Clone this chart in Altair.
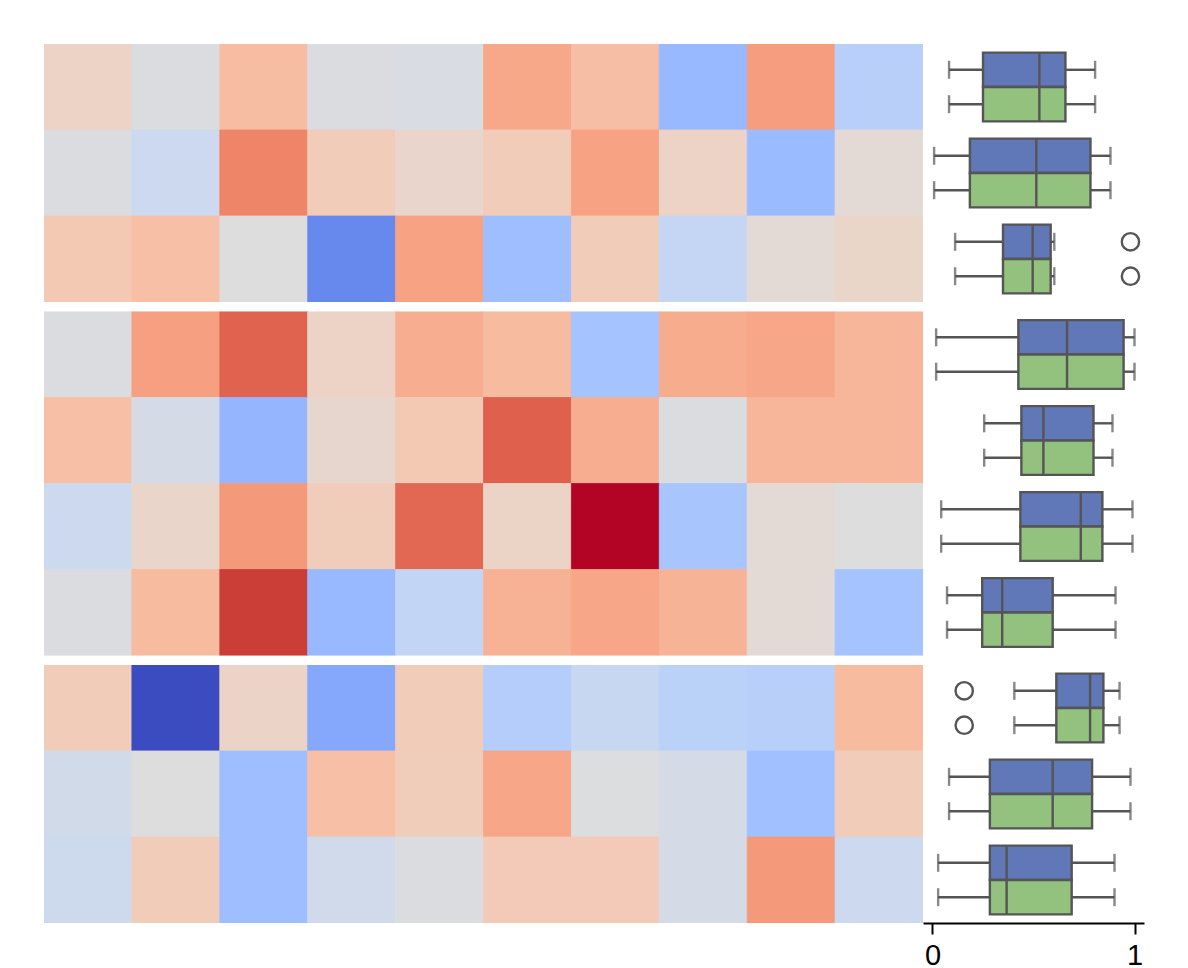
import altair as alt
import pandas as pd

# ---------------- data ----------------
# heatmap values (normalised 0..1, coolwarm), 10 rows x 10 columns
heat_values = [
    [0.563, 0.488, 0.650, 0.488, 0.484, 0.713, 0.644, 0.281, 0.741, 0.375],
    [0.488, 0.438, 0.800, 0.594, 0.547, 0.594, 0.728, 0.563, 0.288, 0.522],
    [0.606, 0.641, 0.500, 0.141, 0.728, 0.297, 0.594, 0.413, 0.522, 0.553],
    [0.488, 0.734, 0.869, 0.563, 0.700, 0.656, 0.319, 0.703, 0.719, 0.675],
    [0.641, 0.469, 0.272, 0.541, 0.606, 0.875, 0.697, 0.488, 0.675, 0.675],
    [0.438, 0.550, 0.750, 0.588, 0.859, 0.559, 1.000, 0.328, 0.522, 0.500],
    [0.488, 0.656, 0.938, 0.281, 0.406, 0.688, 0.719, 0.681, 0.522, 0.319],
    [0.594, 0.000, 0.556, 0.228, 0.594, 0.363, 0.422, 0.381, 0.375, 0.656],
    [0.456, 0.500, 0.300, 0.641, 0.588, 0.719, 0.494, 0.469, 0.306, 0.594],
    [0.441, 0.594, 0.300, 0.450, 0.488, 0.600, 0.600, 0.469, 0.750, 0.438],
]
group_sizes = [3, 4, 3]

# boxplot summary per row
whisker_low = [0.082, 0.008, 0.112, 0.018, 0.256, 0.043, 0.072, 0.405, 0.082, 0.028]
q1 = [0.250, 0.185, 0.349, 0.425, 0.440, 0.435, 0.246, 0.613, 0.284, 0.284]
median = [0.529, 0.514, 0.496, 0.666, 0.549, 0.734, 0.345, 0.780, 0.595, 0.367]
q3 = [0.658, 0.782, 0.585, 0.946, 0.797, 0.841, 0.595, 0.846, 0.790, 0.689]
whisker_high = [0.805, 0.881, 0.603, 1.000, 0.891, 0.990, 0.906, 0.926, 0.980, 0.901]
outlier_rows = [2, 7]
outlier_values = [0.980, 0.157]

hues = ["A", "B"]
hue_colors = ["#6077b8", "#93c17e"]

coolwarm = [
    "#3b4cc0", "#445acc", "#4d68d7", "#5775e1", "#6282ea", "#6c8ff1", "#779af7",
    "#82a5fb", "#8db0fe", "#98b9ff", "#a3c2ff", "#aec9fd", "#b8d0f9", "#c2d5f4",
    "#ccd9ee", "#d5dbe6", "#dddddd", "#e5d8d1", "#ecd3c5", "#f1ccb9", "#f5c4ad",
    "#f7bba0", "#f7b194", "#f7a687", "#f49a7b", "#f18d6f", "#ec7f63", "#e57058",
    "#de604d", "#d55042", "#cb3e38", "#c0282f", "#b40426",
]
cw_domain = [i / 32 for i in range(33)]

LINE = "#555555"
LW = 2.4
HEAT_W = 879
BOX_W = 221
ROW_H = 86
X_DOMAIN = [-0.047, 1.047]

# ---------------- build ----------------
groups = []
start = 0
for g, n in enumerate(group_sizes):
    rows = list(range(start, start + n))
    start += n
    heat_df = pd.DataFrame(
        [{"row": r, "col": c, "value": heat_values[r][c]} for r in rows for c in range(10)]
    )
    box_df = pd.DataFrame(
        [
            {
                "row": r, "hue": h,
                "wlo": whisker_low[r], "q1": q1[r], "med": median[r],
                "q3": q3[r], "whi": whisker_high[r],
            }
            for r in rows for h in hues
        ]
    )
    out_df = pd.DataFrame(
        [
            {"row": r, "hue": h, "value": v}
            for r, v in zip(outlier_rows, outlier_values) if r in rows
            for h in hues
        ]
    )
    height = ROW_H * n

    cw_scale = alt.Scale(domain=cw_domain, range=coolwarm, interpolate="rgb")
    heat = alt.Chart(heat_df).mark_rect(strokeWidth=0.8, clip=True).encode(
        x=alt.X("col:O", axis=None, scale=alt.Scale(paddingInner=0, paddingOuter=0)),
        y=alt.Y("row:O", axis=None, scale=alt.Scale(domain=rows, paddingInner=0, paddingOuter=0)),
        color=alt.Color("value:Q", scale=cw_scale, legend=None),
        stroke=alt.Stroke("value:Q", scale=cw_scale, legend=None),
    ).properties(width=HEAT_W, height=height)

    last = g == len(group_sizes) - 1
    if last:
        xaxis = alt.Axis(
            values=[0, 1], format="d", title=None, grid=False,
            labelFont="Liberation Sans", labelFontSize=29, labelColor="black",
            tickSize=11, tickWidth=2, tickColor="black",
            domainWidth=2, domainColor="black", labelPadding=7,
        )
    else:
        xaxis = None
    xs = alt.Scale(domain=X_DOMAIN, nice=False, zero=False)
    ys = alt.Y("row:O", axis=None, scale=alt.Scale(domain=rows, paddingInner=0, paddingOuter=0))
    yo = alt.YOffset("hue:N", scale=alt.Scale(domain=hues, paddingInner=0, paddingOuter=0.25))

    base = alt.Chart(box_df)
    whisk_lo = base.mark_rule(color=LINE, strokeWidth=LW).encode(
        x=alt.X("wlo:Q", scale=xs, axis=xaxis), x2="q1:Q", y=ys, yOffset=yo)
    whisk_hi = base.mark_rule(color=LINE, strokeWidth=LW).encode(
        x=alt.X("q3:Q", scale=xs), x2="whi:Q", y=ys, yOffset=yo)
    cap_lo = base.mark_tick(color=LINE, thickness=LW, size=18, orient="vertical").encode(
        x=alt.X("wlo:Q", scale=xs), y=ys, yOffset=yo)
    cap_hi = base.mark_tick(color=LINE, thickness=LW, size=18, orient="vertical").encode(
        x=alt.X("whi:Q", scale=xs), y=ys, yOffset=yo)
    box = base.mark_bar(stroke=LINE, strokeWidth=LW, opacity=1).encode(
        x=alt.X("q1:Q", scale=xs), x2="q3:Q", y=ys, yOffset=yo,
        color=alt.Color("hue:N", scale=alt.Scale(domain=hues, range=hue_colors), legend=None),
    )
    med = base.mark_bar(stroke=LINE, strokeWidth=LW, fill=LINE).encode(
        x=alt.X("med:Q", scale=xs), x2="med:Q", y=ys, yOffset=yo)
    layers = [whisk_lo, whisk_hi, cap_lo, cap_hi, box, med]
    if len(out_df):
        pts = alt.Chart(out_df).mark_point(
            shape="circle", filled=False, size=300, strokeWidth=LW, color=LINE, opacity=1
        ).encode(x=alt.X("value:Q", scale=xs), y=ys, yOffset=yo)
        layers.append(pts)
    boxes = alt.layer(*layers).properties(width=BOX_W, height=height)

    row_chart = alt.hconcat(heat, boxes, spacing=0).resolve_scale(
        color="independent", stroke="independent")
    groups.append(row_chart)

chart = alt.vconcat(*groups, spacing=9.5).resolve_scale(
    color="independent", stroke="independent"
).properties(
    padding={"left": 44, "top": 44, "right": 5, "bottom": 0}
).configure_view(stroke=None).configure_axis(labelFont="Liberation Sans")

chart.save("out.html", embed_options={"renderer": "svg", "actions": False})
